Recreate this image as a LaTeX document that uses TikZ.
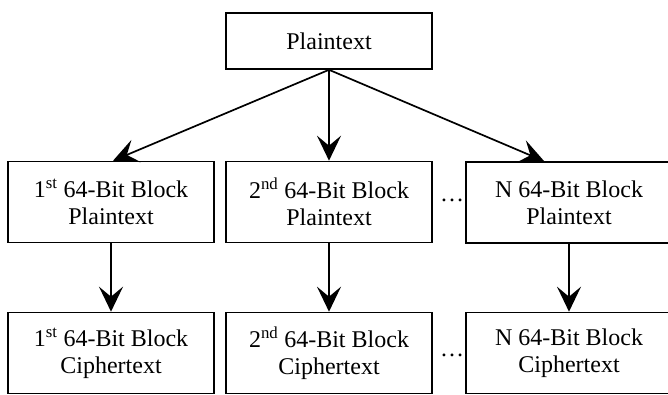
\documentclass[tikz,border=0pt]{standalone}
\usepackage{fontspec}
\setmainfont{Liberation Serif}
\usetikzlibrary{arrows.meta}
\begin{document}
\begin{tikzpicture}[x=1pt,y=-1pt,
  box/.style={draw, line width=1.6pt, minimum width=206pt, minimum height=81pt,
    inner sep=0pt, align=center, font=\fontsize{24}{27}\selectfont},
  arr/.style={line width=1.7pt, -{Stealth[length=25pt,width=24pt,inset=10pt]}},
  dots/.style={font=\fontsize{24}{27}\selectfont, inner sep=0pt}]
\useasboundingbox (0,0) rectangle (668,394);
% source block
\node[box, minimum height=56pt] (pt) at (329,41) {Plaintext};
% plaintext blocks
\node[box] (p1) at (111,202) {1\textsuperscript{st} 64-Bit Block\\Plaintext};
\node[box] (p2) at (329,202) {2\textsuperscript{nd} 64-Bit Block\\Plaintext};
\node[box] (p3) at (569,202.5) {N 64-Bit Block\\Plaintext};
% ciphertext blocks
\node[box] (c1) at (111,353) {1\textsuperscript{st} 64-Bit Block\\Ciphertext};
\node[box] (c2) at (329,353) {2\textsuperscript{nd} 64-Bit Block\\Ciphertext};
\node[box] (c3) at (569,353) {N 64-Bit Block\\Ciphertext};
% ellipses between the second and last columns
\node[dots] (d1) at (452,200) {…};
\node[dots] (d2) at (452,355) {…};
% split arrows
\coordinate (t3) at ([xshift=79pt]p3.north west);
\draw[arr] (pt.south) -- ([xshift=2pt]p1.north);
\draw[arr] (pt.south) -- (p2.north);
\draw[arr] (pt.south) -- (t3);
% encryption arrows
\draw[arr] (p1.south) -- (c1.north);
\draw[arr] (p2.south) -- (c2.north);
\draw[arr] (p3.south) -- (c3.north);
\end{tikzpicture}
\end{document}
